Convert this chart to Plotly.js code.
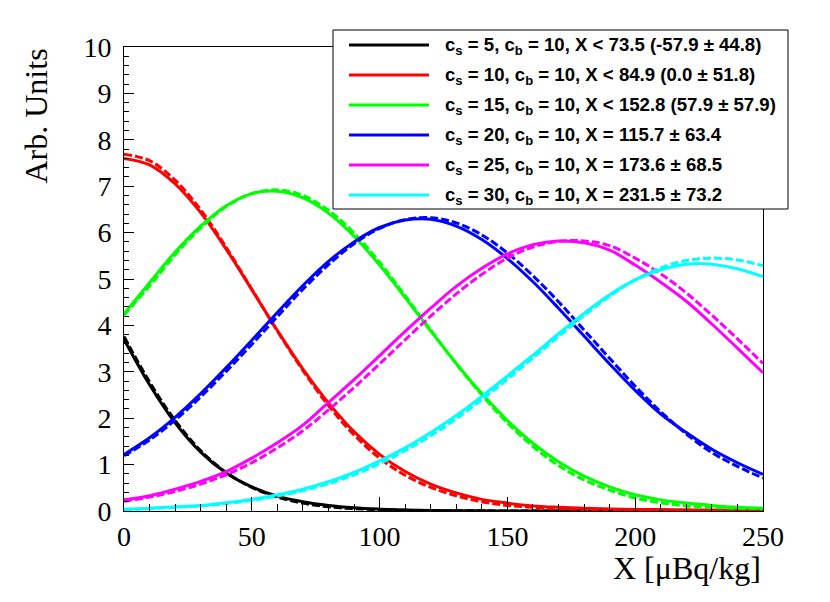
<!DOCTYPE html>
<html>
<head>
<meta charset="utf-8">
<script src="https://cdn.plot.ly/plotly-3.0.1.min.js"></script>
<style>
html,body{margin:0;padding:0;background:#fff;}
#chart{width:830px;height:602px;}
</style>
</head>
<body>
<div id="chart"></div>
<script>
// ---- data ----
const xValues = [0,10,20,30,40,50,60,70,80,90,100,110,120,130,140,150,160,170,180,190,200,210,220,230,240,250];

const blackSolid  = [3.70,2.72,1.90,1.27,0.82,0.52,0.32,0.20,0.12,0.07,0.04,0.02,0.01,0.005,0.003,0.002,0.001,0,0,0,0,0,0,0,0,0];
const blackDashed = [3.76,2.78,1.95,1.30,0.83,0.51,0.30,0.17,0.09,0.05,0.03,0.015,0.01,0.005,0.003,0.002,0.001,0,0,0,0,0,0,0,0,0];

const redSolid  = [7.60,7.46,7.05,6.43,5.64,4.77,3.89,3.06,2.33,1.71,1.22,0.85,0.58,0.39,0.25,0.17,0.11,0.08,0.06,0.045,0.035,0.03,0.025,0.02,0.02,0.015];
const redDashed = [7.69,7.55,7.13,6.49,5.68,4.78,3.88,3.03,2.27,1.64,1.14,0.77,0.51,0.33,0.20,0.12,0.08,0.05,0.035,0.025,0.02,0.015,0.01,0.01,0.01,0.01];

const greenSolid  = [4.25,4.92,5.58,6.14,6.58,6.84,6.89,6.75,6.42,5.92,5.30,4.60,3.88,3.18,2.53,1.95,1.46,1.06,0.75,0.52,0.35,0.24,0.17,0.12,0.08,0.06];
const greenDashed = [4.22,4.85,5.52,6.10,6.56,6.84,6.92,6.80,6.48,5.99,5.36,4.64,3.90,3.17,2.50,1.90,1.39,0.98,0.67,0.45,0.28,0.18,0.11,0.08,0.06,0.05];

const blueSolid  = [1.22,1.58,2.02,2.53,3.09,3.68,4.28,4.86,5.38,5.80,6.11,6.27,6.29,6.14,5.85,5.44,4.94,4.37,3.77,3.17,2.60,2.09,1.69,1.33,1.04,0.79];
const blueDashed = [1.19,1.53,1.96,2.46,3.01,3.59,4.19,4.78,5.31,5.76,6.09,6.28,6.32,6.21,5.95,5.56,5.07,4.51,3.90,3.29,2.69,2.14,1.66,1.26,0.96,0.71];

const magentaSolid  = [0.24,0.33,0.47,0.64,0.85,1.14,1.47,1.85,2.34,2.83,3.35,3.87,4.37,4.84,5.23,5.54,5.74,5.82,5.78,5.62,5.30,4.93,4.52,4.03,3.51,2.98];
const magentaDashed = [0.21,0.30,0.42,0.58,0.78,1.04,1.36,1.73,2.18,2.66,3.17,3.69,4.20,4.68,5.10,5.45,5.69,5.81,5.82,5.72,5.45,5.11,4.70,4.22,3.71,3.18];

const cyanSolid  = [0.04,0.06,0.09,0.12,0.18,0.25,0.35,0.47,0.63,0.83,1.08,1.36,1.69,2.06,2.47,2.91,3.36,3.82,4.26,4.66,4.98,5.20,5.32,5.32,5.22,5.05];
const cyanDashed = [0.03,0.05,0.08,0.11,0.16,0.23,0.32,0.44,0.59,0.78,1.02,1.30,1.62,1.99,2.40,2.84,3.30,3.76,4.21,4.63,4.98,5.24,5.40,5.45,5.41,5.29];

const seriesColors = ['#000000','#ff0000','#00ff00','#0000ff','#ff00ff','#00ffff'];
const legendLabels = [
  'c<sub>s</sub> = 5, c<sub>b</sub> = 10, X &lt; 73.5 (-57.9 ± 44.8)',
  'c<sub>s</sub> = 10, c<sub>b</sub> = 10, X &lt; 84.9 (0.0 ± 51.8)',
  'c<sub>s</sub> = 15, c<sub>b</sub> = 10, X &lt; 152.8 (57.9 ± 57.9)',
  'c<sub>s</sub> = 20, c<sub>b</sub> = 10, X = 115.7 ± 63.4',
  'c<sub>s</sub> = 25, c<sub>b</sub> = 10, X = 173.6 ± 68.5',
  'c<sub>s</sub> = 30, c<sub>b</sub> = 10, X = 231.5 ± 73.2'
];
const xTitle = 'X [μBq/kg]';
const yTitle = 'Arb. Units';

// ---- build traces ----
const solids  = [blackSolid, redSolid, greenSolid, blueSolid, magentaSolid, cyanSolid];
const dashed  = [blackDashed, redDashed, greenDashed, blueDashed, magentaDashed, cyanDashed];
const traces = [];
for (let i = 0; i < solids.length; i++) {
  traces.push({x: xValues, y: dashed[i], type: 'scatter', mode: 'lines', showlegend: false,
    hoverinfo: 'skip', line: {color: seriesColors[i], width: 3, dash: '8px,3px', shape: 'spline', smoothing: 1}});
  traces.push({x: xValues, y: solids[i], type: 'scatter', mode: 'lines', showlegend: false,
    hoverinfo: 'skip', line: {color: seriesColors[i], width: 3, shape: 'spline', smoothing: 1}});
}

// ---- layout ----
const W = 830, H = 602, L = 124, R = 67, T = 47, B = 91;
const pw = W - L - R, ph = H - T - B;
const px = v => (v - L) / pw;          // pixel -> paper x
const py = v => (H - B - v) / ph;      // pixel -> paper y

const shapes = [{
  type: 'rect', xref: 'paper', yref: 'paper', layer: 'above',
  x0: px(333), x1: px(788), y0: py(209), y1: py(30),
  line: {color: '#000', width: 1}, fillcolor: '#fff'
}];
const annotations = [];
const rowY = [45, 75, 105, 135, 165, 195];
for (let i = 0; i < legendLabels.length; i++) {
  shapes.push({type: 'line', xref: 'paper', yref: 'paper', layer: 'above',
    x0: px(349), x1: px(429), y0: py(rowY[i]), y1: py(rowY[i]),
    line: {color: seriesColors[i], width: 3}});
  annotations.push({xref: 'paper', yref: 'paper', x: px(443), y: py(rowY[i] + 1),
    xanchor: 'left', yanchor: 'middle', showarrow: false, text: '<b>' + legendLabels[i] + '</b>',
    font: {family: 'Liberation Sans, Arial, sans-serif', size: 18.6, color: '#000'}});
}
annotations.push({xref: 'paper', yref: 'paper', x: 1, y: 0, xanchor: 'right', yanchor: 'middle',
  yshift: -57, showarrow: false, text: xTitle,
  font: {family: 'Liberation Serif, Times New Roman, serif', size: 32, color: '#000'}});
annotations.push({xref: 'paper', yref: 'paper', x: 0, y: 1, xanchor: 'center', yanchor: 'top',
  xshift: -89, showarrow: false, textangle: -90, text: yTitle,
  font: {family: 'Liberation Serif, Times New Roman, serif', size: 32, color: '#000'}});

const tickFont = {family: 'Liberation Serif, Times New Roman, serif', size: 28, color: '#000'};
const layout = {
  width: W, height: H,
  margin: {l: L, r: R, t: T, b: B, pad: 0},
  paper_bgcolor: '#fff', plot_bgcolor: '#fff',
  showlegend: false,
  xaxis: {range: [0, 250], showgrid: false, zeroline: false, showline: true, mirror: true,
    linecolor: '#000', linewidth: 1, ticks: 'inside', ticklen: 14, tickwidth: 1, tickcolor: '#000',
    dtick: 50, tick0: 0, tickfont: tickFont,
    minor: {dtick: 10, ticks: 'inside', ticklen: 7, tickwidth: 1, tickcolor: '#000', showgrid: false}},
  yaxis: {range: [0, 10], showgrid: false, zeroline: false, showline: true, mirror: true,
    linecolor: '#000', linewidth: 1, ticks: 'inside', ticklen: 10, tickwidth: 1, tickcolor: '#000',
    dtick: 1, tick0: 0, tickfont: tickFont, ticklabelstandoff: 6,
    minor: {dtick: 0.2, ticks: 'inside', ticklen: 5, tickwidth: 1, tickcolor: '#000', showgrid: false}},
  shapes: shapes,
  annotations: annotations
};

Plotly.newPlot('chart', traces, layout, {staticPlot: true, displayModeBar: false});
</script>
</body>
</html>
